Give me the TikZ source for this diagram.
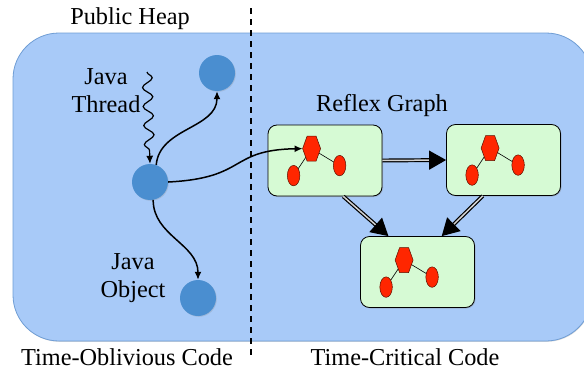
\documentclass[tikz,border=0pt]{standalone}
\usepackage{fontspec}
\setmainfont{Liberation Serif}
\usetikzlibrary{arrows.meta,shapes.geometric,decorations.pathmorphing,shadows}
\definecolor{heapblue}{HTML}{A8CAF8}
\definecolor{heapedge}{HTML}{6F9DD4}
\definecolor{objblue}{HTML}{4A8ED0}
\definecolor{boxgreen}{HTML}{D6FAD4}
\definecolor{molred}{HTML}{FF2600}
\definecolor{moledge}{HTML}{5A1000}
\begin{document}
\begin{tikzpicture}[x=1pt,y=-1pt,
  lbl/.style={font=\fontsize{24.3}{28}\selectfont, inner sep=0pt, align=center},
  heap/.style={draw=heapedge, line width=0.8pt, fill=heapblue, rounded corners=46pt, minimum width=579pt, minimum height=308pt, inner sep=0pt, drop shadow={shadow xshift=0.6pt, shadow yshift=-0.8pt, opacity=0.3}},
  obj/.style={circle, fill=objblue, minimum size=36pt, inner sep=0pt, drop shadow={shadow xshift=0.8pt, shadow yshift=-0.8pt, opacity=0.25}},
  gbox/.style={draw=black, line width=0.8pt, fill=boxgreen, rounded corners=9pt, minimum width=114pt, minimum height=71pt, inner sep=0pt, drop shadow={shadow xshift=1pt, shadow yshift=-1pt, opacity=0.35}},
  ell/.style={ellipse, draw=moledge, fill=molred, minimum width=12.5pt, minimum height=20.5pt, inner sep=0pt, line width=0.5pt},
  hexa/.style={draw=moledge, fill=molred, line width=0.5pt},
  bond/.style={draw=black, line width=0.6pt},
  thinarrow/.style={-{Latex[length=8pt,width=7pt]}, line width=1.5pt},
  dblarrow/.style={-{Triangle[length=17pt,width=19pt]}, line width=1.2pt, double=gray!35, double distance=1.5pt},
  divider/.style={line width=1.6pt, dash pattern=on 6pt off 5pt},
  mol/.pic={
    \coordinate (-hex) at (44,24);
    \coordinate (-lc) at (26,51);
    \coordinate (-rc) at (72,41);
    \draw[bond] (-hex) -- (-lc);
    \draw[bond] (-hex) -- (-rc);
    \filldraw[hexa] (35,24) -- (39.5,11.5) -- (48.5,11.5) -- (53,24) -- (48.5,36.5) -- (39.5,36.5) -- cycle;
    \coordinate (-hw) at (35,24);
    \node[ell] (-l) at (-lc) {};
    \node[ell] (-r) at (-rc) {};
  }
]
\clip (0,0) rectangle (584,372);
% heap
\node[heap] (heap) at (302.5,187) {};
% divider
\coordinate (dt) at (251,8);
\coordinate (db) at (251,358);
\draw[divider] (dt) -- (db);
% labels
\node[lbl] (ph) at (130,19) {Public Heap};
\node[lbl] (toc) at (127,357) {Time-Oblivious Code};
\node[lbl] (tcc) at (405,357) {Time-Critical Code};
\node[lbl] (rg) at (382,106) {Reflex Graph};
\node[lbl] (jt) at (106,91) {Java\\Thread};
\node[lbl] (jo) at (133,278) {Java\\Object};
% objects
\node[obj] (o1) at (217,73) {};
\node[obj] (o2) at (150,182) {};
\node[obj] (o3) at (198,298) {};
% green boxes
\node[gbox] (g1) at (325,160.5) {};
\node[gbox] (g2) at (503.5,160) {};
\node[gbox] (g3) at (417.5,272) {};
\pic (m1) at (g1.north west) {mol};
\pic (m2) at (g2.north west) {mol};
\pic (m3) at (g3.north west) {mol};
% thread
\coordinate (wt) at (147,72);
\draw[thinarrow, line width=1.2pt, decorate, decoration={snake, amplitude=5pt, segment length=19pt, post length=7pt}] (wt) -- (o2.north);
% references
\draw[thinarrow] (o2.70) to[out=85, in=-90] (o1.south);
\draw[thinarrow] (o2.-80) to[out=-90, in=90] (o3.north);
\draw[thinarrow] (o2.east) .. controls (248,178) and (228,150) .. (m1-hw);
% graph edges
\draw[dblarrow] (g1.east) -- (g2.west);
\draw[dblarrow] (g1.-63) -- (g3.129);
\draw[dblarrow] (g2.-120) -- (g3.56);
\end{tikzpicture}
\end{document}
